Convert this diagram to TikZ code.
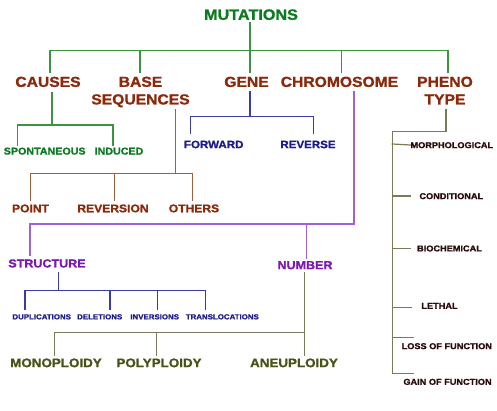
\documentclass[tikz,border=0pt]{standalone}
\usepackage{fontspec}
\newfontfamily\hvy{Liberation Sans Bold}[FakeStretch=1.08, FakeBold=1.2]
\definecolor{gtxt}{HTML}{0B7A20}
\definecolor{gln}{HTML}{3A9440}
\definecolor{btxt}{HTML}{8A2A0C}
\definecolor{bln}{HTML}{A0603A}
\definecolor{ntxt}{HTML}{1C1C8A}
\definecolor{nln}{HTML}{3A3AA8}
\definecolor{ptxt}{HTML}{7A1AB0}
\definecolor{pln}{HTML}{A060D8}
\definecolor{otxt}{HTML}{4A5218}
\definecolor{oln}{HTML}{7A7A58}
\definecolor{ktxt}{HTML}{2A0A0A}
\tikzset{
  lab/.style={inner sep=0pt, text depth=0pt},
  mutS/.style={lab, font=\fontsize{15}{18}\selectfont\hvy, text height=10.7pt, text=gtxt},
  lvA/.style={lab, font=\fontsize{14.5}{17.6}\selectfont\hvy, text height=10.4pt, text=btxt},
  lvAm/.style={inner sep=0pt, font=\fontsize{14.5}{17.6}\selectfont\hvy, text=btxt, align=center, anchor=north},
  spS/.style={lab, font=\fontsize{9.9}{12}\selectfont\hvy, text height=7.1pt, text=gtxt},
  ptS/.style={lab, font=\fontsize{11.2}{13}\selectfont\hvy, text height=8pt, text=btxt},
  gnS/.style={lab, font=\fontsize{10.7}{13}\selectfont\hvy, text height=7.7pt, text=ntxt},
  stS/.style={lab, font=\fontsize{11.6}{14}\selectfont\hvy, text height=8.3pt, text=ptxt},
  dpS/.style={lab, font=\fontsize{7.3}{9}\selectfont\hvy, text height=5.3pt, text=ntxt},
  mnS/.style={lab, font=\fontsize{12.4}{15}\selectfont\hvy, text height=8.9pt, text=otxt},
  phS/.style={lab, font=\fontsize{8.5}{10}\selectfont\hvy, text height=6.2pt, text=ktxt},
  wire/.style={line width=1.2pt, line cap=rect},
  gw/.style={wire, draw=gln},
  bw/.style={wire, draw=bln},
  nw/.style={wire, draw=nln},
  pw/.style={wire, draw=pln},
  ow/.style={wire, draw=oln},
}
\begin{document}
\begin{tikzpicture}[x=1pt,y=-1pt]
\useasboundingbox (0,0) rectangle (497,411);
\fill[white] (0,0) rectangle (497,411);

% ---- nodes ----
\node[mutS] (mut) at (251,14.5) {MUTATIONS};
\node[lvA] (causes) at (48,81.7) {CAUSES};
\node[lvAm] (base) at (140.5,76.5) {BASE\\SEQUENCES};
\node[lvA] (gene) at (246.5,81.7) {GENE};
\node[lvA] (chrom) at (339.5,81.7) {CHROMOSOME};
\node[lvAm] (pheno) at (445,76.5) {PHENO\\TYPE};

\node[spS] (spont) at (44.7,151) {SPONTANEOUS};
\node[spS] (induced) at (119,151) {INDUCED};

\node[gnS] (forward) at (213.7,144.3) {FORWARD};
\node[gnS] (reverse) at (308,144.3) {REVERSE};

\node[ptS] (point) at (30.5,208.3) {POINT};
\node[ptS] (reversion) at (113,208.3) {REVERSION};
\node[ptS] (others) at (194,208.3) {OTHERS};

\node[stS] (structure) at (47,263.3) {STRUCTURE};
\node[stS] (number) at (305,265) {NUMBER};

\node[dpS] (dup) at (41.7,316.7) {DUPLICATIONS};
\node[dpS] (del) at (99.7,316.7) {DELETIONS};
\node[dpS] (inv) at (154.7,316.7) {INVERSIONS};
\node[dpS] (trans) at (222.3,316.7) {TRANSLOCATIONS};

\node[mnS] (mono) at (56,362.7) {MONOPLOIDY};
\node[mnS] (poly) at (159,362.7) {POLYPLOIDY};
\node[mnS] (aneu) at (294,362.7) {ANEUPLOIDY};

\node[phS] (morph) at (451.8,145) {MORPHOLOGICAL};
\node[phS] (cond) at (451.3,196) {CONDITIONAL};
\node[phS] (bio) at (449.5,248.3) {BIOCHEMICAL};
\node[phS] (leth) at (439.5,305.7) {LETHAL};
\node[phS] (loss) at (446.8,346) {LOSS OF FUNCTION};
\node[phS] (gain) at (447.5,381.7) {GAIN OF FUNCTION};

% ---- junction coordinates ----
\coordinate (gL) at (50,50.7);
\coordinate (gR) at (448,50.7);
\coordinate (cL) at (17.7,125);
\coordinate (cR) at (113,125);
\coordinate (bL) at (30.7,173.3);
\coordinate (bR) at (192.3,173.3);
\coordinate (nL) at (190.7,116.7);
\coordinate (nR) at (313.3,116.7);
\coordinate (pL) at (30,224);
\coordinate (pR) at (354,224);
\coordinate (sL) at (25,290.7);
\coordinate (sR) at (205.7,290.7);
\coordinate (oL) at (54.3,332.3);
\coordinate (oR) at (304.3,332.3);
\coordinate (rT) at (392.3,131.7);
\coordinate (rB) at (392.3,373.3);

% ---- green: mutations ----
\draw[gw] (250,23) -- (250,50.7);
\draw[gw] (gL) -- (gR);
\draw[gw] (gL) -- (50,72.7);
\draw[gw] (140,50.7) -- (140,72.7);
\draw[gw] (250,50.7) -- (250,72.7);
\draw[gw] (341.7,50.7) -- (341.7,72.7);
\draw[gw] (gR) -- (448,72.7);

% ---- green: causes ----
\draw[gw] (52,92.5) -- (52,125);
\draw[gw] (cL) -- (cR);
\draw[gw] (cL) -- (17.7,145);
\draw[gw] (cR) -- (113,145);

% ---- brown: base sequences ----
\draw[bw] (175.7,110) -- (175.7,173.3);
\draw[bw] (bL) -- (bR);
\draw[bw] (bL) -- (30.7,200);
\draw[bw] (114.3,173.3) -- (114.3,200);
\draw[bw] (bR) -- (192.3,200);

% ---- blue: gene ----
\draw[nw] (250,92) -- (250,116.7);
\draw[nw] (nL) -- (nR);
\draw[nw] (nL) -- (190.7,133);
\draw[nw] (nR) -- (313.3,133);

% ---- purple: chromosome ----
\draw[pw] (354,92) -- (pR);
\draw[pw] (pL) -- (pR);
\draw[pw] (pL) -- (30,255);
\draw[pw] (306.7,224) -- (306.7,258);

% ---- blue: structure ----
\draw[nw] (58.7,272.7) -- (58.7,290.7);
\draw[nw] (sL) -- (sR);
\draw[nw] (sL) -- (25,309);
\draw[nw] (110,290.7) -- (110,309);
\draw[nw] (157.3,290.7) -- (157.3,309);
\draw[nw] (sR) -- (205.7,309);

% ---- olive: number ----
\draw[ow] (304.3,273) -- (304.3,355);
\draw[ow] (oL) -- (oR);
\draw[ow] (oL) -- (54.3,355);
\draw[ow] (156.7,332.3) -- (156.7,355);

% ---- olive: phenotype ----
\draw[ow] (446,110) -- (446,131.7) -- (rT) -- (rB);
\draw[ow] (392.3,144) -- (morph.west);
\draw[ow] (392.3,196) -- (410,196);
\draw[ow] (392.3,248.3) -- (410,248.3);
\draw[ow] (392.3,307.3) -- (411,307.3);
\draw[ow] (392.3,337.3) -- (413.3,337.3);
\draw[ow] (rB) -- (413.3,373.3);
\end{tikzpicture}
\end{document}
